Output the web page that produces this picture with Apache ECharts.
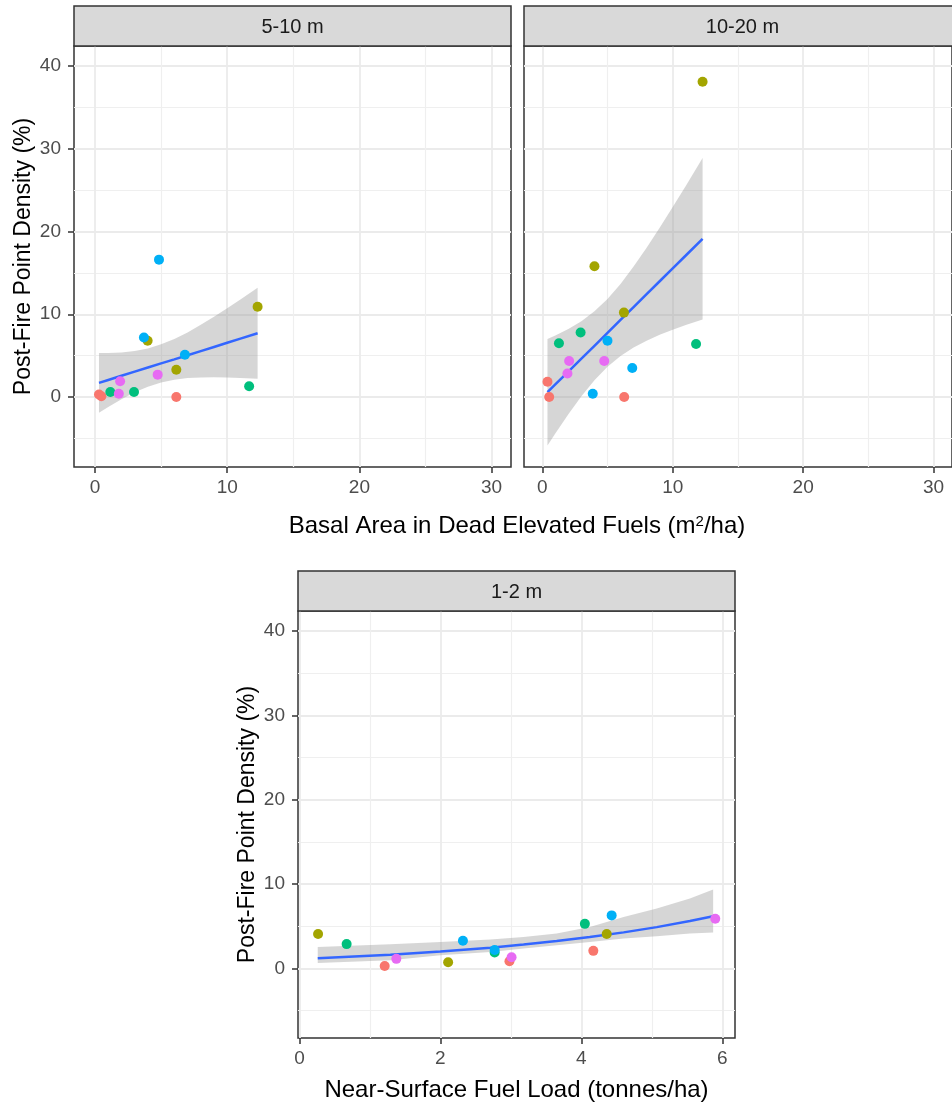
<!DOCTYPE html>
<html><head><meta charset="utf-8">
<script src="https://cdn.jsdelivr.net/npm/echarts@6/dist/echarts.min.js"></script>
<style>html,body{margin:0;padding:0;background:#fff}#c{width:952px;height:1104px}</style>
</head><body><div id="c"></div>
<script>
// ---------- DATA ----------
const groupColors = ['#F8766D', '#A3A500', '#00BF7D', '#00B0F6', '#E76BF3'];
const panelTitles = ['5-10 m', '10-20 m', '1-2 m'];
const yTitle = 'Post-Fire Point Density (%)';
const xTitleTop = 'Basal Area in Dead Elevated Fuels (m{sup|2}/ha)';
const xTitleBottom = 'Near-Surface Fuel Load (tonnes/ha)';
const yTicks = [0, 10, 20, 30, 40];
const xTicksTop = [0, 10, 20, 30];
const xTicksBottom = [0, 2, 4, 6];

// Panel A: 5-10 m
const aX = [0.30, 0.48, 6.15, 12.3, 3.98, 6.15, 11.66, 1.16, 2.95, 4.84, 3.7, 6.8, 4.74, 1.9, 1.8];
const aY = [0.3, 0.1, 0.0, 10.9, 6.8, 3.3, 1.3, 0.6, 0.6, 16.6, 7.2, 5.1, 2.7, 1.9, 0.4];
const aG = [0, 0, 0, 1, 1, 1, 2, 2, 2, 3, 3, 3, 4, 4, 4];
const aSx = [0.3, 1, 2, 3, 4, 5, 6, 7, 8, 9, 10, 11, 12.3];
const aFit = [1.71, 2.06, 2.56, 3.06, 3.56, 4.06, 4.55, 5.05, 5.55, 6.05, 6.55, 7.05, 7.70];
const aLo = [-1.89, -1.20, -0.27, 0.56, 1.25, 1.76, 2.09, 2.29, 2.37, 2.39, 2.37, 2.31, 2.21];
const aHi = [5.31, 5.32, 5.39, 5.56, 5.87, 6.36, 7.01, 7.81, 8.73, 9.71, 10.73, 11.79, 13.19];

// Panel B: 10-20 m
const bX = [0.4, 0.53, 6.28, 4.0, 6.26, 12.29, 2.94, 1.28, 11.79, 5.0, 6.9, 3.87, 2.06, 4.75, 1.93];
const bY = [1.85, 0.0, 0.0, 15.8, 10.2, 38.1, 7.8, 6.5, 6.4, 6.8, 3.5, 0.4, 4.35, 4.35, 2.85];
const bG = [0, 0, 0, 1, 1, 1, 2, 2, 2, 3, 3, 3, 4, 4, 4];
const bSx = [0.4, 1, 2, 3, 4, 5, 6, 7, 8, 9, 10, 11, 12.29];
const bFit = [0.58, 1.52, 3.07, 4.63, 6.19, 7.75, 9.31, 10.87, 12.43, 13.99, 15.55, 17.10, 19.12];
const bLo = [-5.86, -4.40, -2.07, 0.10, 2.03, 3.65, 4.95, 5.98, 6.81, 7.52, 8.14, 8.69, 9.37];
const bHi = [7.02, 7.44, 8.21, 9.16, 10.35, 11.85, 13.67, 15.76, 18.05, 20.46, 22.96, 25.51, 28.87];

// Panel C: 1-2 m
const cX = [1.21, 2.98, 4.17, 0.265, 2.11, 4.36, 0.67, 2.77, 4.05, 2.32, 2.77, 4.43, 1.375, 3.01, 5.90];
const cY = [0.3, 0.87, 2.1, 4.1, 0.75, 4.1, 2.9, 1.9, 5.3, 3.3, 2.2, 6.3, 1.15, 1.34, 5.9];
const cG = [0, 0, 0, 1, 1, 1, 2, 2, 2, 3, 3, 3, 4, 4, 4];
const cSx = [0.26, 1.29, 2.0, 2.71, 3.18, 3.65, 4.12, 4.6, 5.07, 5.54, 5.87];
const cFit = [1.22, 1.64, 2.02, 2.48, 2.84, 3.26, 3.73, 4.29, 4.91, 5.64, 6.20];
const cLo = [0.67, 0.98, 1.58, 1.97, 2.37, 2.76, 3.16, 3.56, 3.83, 4.15, 4.27];
const cHi = [2.56, 2.88, 3.16, 3.44, 3.75, 4.15, 4.94, 6.12, 7.12, 8.30, 9.37];

// ---------- LAYOUT ----------
const FONT = '"Liberation Sans", Arial, sans-serif';
const panels = [
  { left: 74, top: 46, width: 437, height: 421, xmin: -1.59, xmax: 31.47, ymin: -8.46, ymax: 42.42, xi: 10, xt: xTicksTop, yLab: true, yName: true },
  { left: 524, top: 46, width: 437, height: 421, xmin: -1.40, xmax: 31.41, ymin: -8.46, ymax: 42.42, xi: 10, xt: xTicksTop, yLab: false, yName: false },
  { left: 298, top: 611, width: 437, height: 427, xmin: -0.02, xmax: 6.18, ymin: -8.23, ymax: 42.38, xi: 2, xt: xTicksBottom, yLab: true, yName: true, xName: xTitleBottom }
];
const STRIP_H = 40;

const grids = panels.map(p => ({
  left: p.left, top: p.top, width: p.width, height: p.height,
  show: true, borderColor: '#333333', borderWidth: 1.5, backgroundColor: '#fff', containLabel: false
}));

const tickStyle = { color: '#333333', width: 1.5 };
const xAxes = panels.map((p, i) => ({
  type: 'value', gridIndex: i, position: 'bottom', min: p.xmin, max: p.xmax, minInterval: p.xi, maxInterval: p.xi,
  axisLine: { show: false, onZero: false },
  axisTick: { show: true, length: 6, lineStyle: tickStyle, customValues: p.xt },
  axisLabel: { show: true, customValues: p.xt, color: '#4D4D4D', fontSize: 19, fontFamily: FONT, margin: 11 },
  splitLine: { show: true, lineStyle: { color: '#EBEBEB', width: 1.8 } },
  minorTick: { show: false, splitNumber: 2 },
  minorSplitLine: { show: true, lineStyle: { color: '#EFEFEF', width: 1.2 } },
  name: p.xName || '', nameLocation: 'middle', nameGap: 40,
  nameTextStyle: { color: '#000', fontSize: 24, fontFamily: FONT }
}));
const yAxes = panels.map((p, i) => ({
  type: 'value', gridIndex: i, position: 'left', min: p.ymin, max: p.ymax, minInterval: 10, maxInterval: 10,
  axisLine: { show: false, onZero: false },
  axisTick: { show: p.yLab, length: 6, lineStyle: tickStyle, customValues: yTicks },
  axisLabel: { show: p.yLab, customValues: yTicks, color: '#4D4D4D', fontSize: 19, fontFamily: FONT, margin: 13 },
  splitLine: { show: true, lineStyle: { color: '#EBEBEB', width: 1.8 } },
  minorTick: { show: false, splitNumber: 2 },
  minorSplitLine: { show: true, lineStyle: { color: '#EFEFEF', width: 1.2 } },
  name: p.yName ? yTitle : '', nameLocation: 'middle', nameGap: 39,
  nameTextStyle: { color: '#000', fontSize: 23, fontFamily: FONT }
}));

function ribbon(gi, xs, lo, hi) {
  return {
    type: 'custom', xAxisIndex: gi, yAxisIndex: gi, silent: true, z: 1,
    data: xs.map((x, i) => [x, lo[i], hi[i]]),
    encode: { x: 0, y: [1, 2] },
    renderItem: (params, api) => {
      if (params.dataIndex !== 0) return null;
      const pts = [];
      for (let i = 0; i < xs.length; i++) pts.push(api.coord([xs[i], hi[i]]));
      for (let i = xs.length - 1; i >= 0; i--) pts.push(api.coord([xs[i], lo[i]]));
      return { type: 'polygon', shape: { points: pts }, style: { fill: 'rgba(153,153,153,0.4)' } };
    }
  };
}
function fitLine(gi, xs, ys) {
  return {
    type: 'line', xAxisIndex: gi, yAxisIndex: gi, z: 2, silent: true,
    data: xs.map((x, i) => [x, ys[i]]), showSymbol: false, symbol: 'none',
    lineStyle: { color: '#3366FF', width: 2.5 }
  };
}
function points(gi, xs, ys, gs) {
  return {
    type: 'scatter', xAxisIndex: gi, yAxisIndex: gi, z: 3, silent: true,
    data: xs.map((x, i) => [x, ys[i], gs[i]]), symbolSize: 10,
    itemStyle: { opacity: 1, color: p => groupColors[p.value[2]] }
  };
}

const series = [
  ribbon(0, aSx, aLo, aHi), fitLine(0, aSx, aFit), points(0, aX, aY, aG),
  ribbon(1, bSx, bLo, bHi), fitLine(1, bSx, bFit), points(1, bX, bY, bG),
  ribbon(2, cSx, cLo, cHi), fitLine(2, cSx, cFit), points(2, cX, cY, cG)
];

const graphic = [];
panels.forEach((p, i) => {
  graphic.push({
    type: 'rect', shape: { x: p.left, y: p.top - STRIP_H, width: p.width, height: STRIP_H },
    style: { fill: '#D9D9D9', stroke: '#333333', lineWidth: 1.5 }, z: 10
  });
  graphic.push({
    type: 'text', x: p.left + p.width / 2, y: p.top - STRIP_H / 2 + 1, z: 11,
    style: { text: panelTitles[i], fill: '#1A1A1A', font: '20px ' + FONT, align: 'center', verticalAlign: 'middle' }
  });
});
graphic.push({
  type: 'text', x: 517, y: 526, z: 11,
  style: {
    text: xTitleTop, fill: '#000', font: '24px ' + FONT, align: 'center', verticalAlign: 'middle',
    rich: { sup: { fontSize: 15, fontFamily: FONT, verticalAlign: 'top', lineHeight: 12, fill: '#000' } }
  }
});

const chart = echarts.init(document.getElementById('c'), null, { renderer: 'canvas', width: 952, height: 1104 });
chart.setOption({
  animation: false, backgroundColor: '#ffffff',
  grid: grids, xAxis: xAxes, yAxis: yAxes, series: series, graphic: graphic
});
</script></body></html>
